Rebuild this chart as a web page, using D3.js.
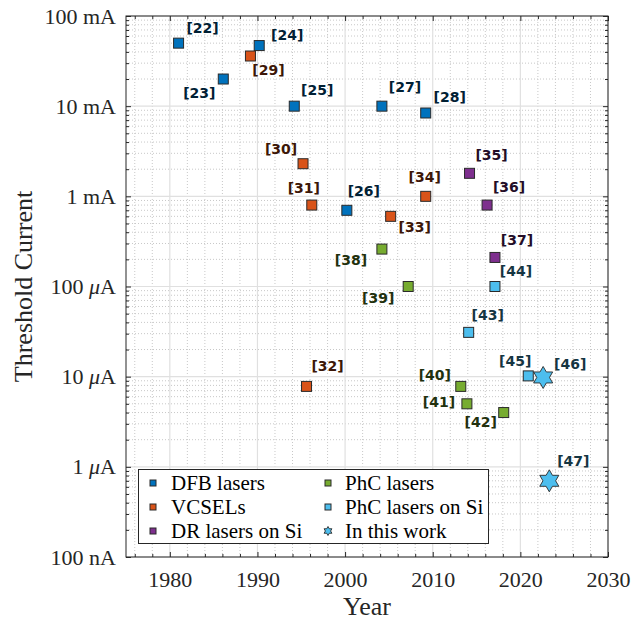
<!DOCTYPE html>
<html>
<head>
<meta charset="utf-8">
<script src="https://cdn.jsdelivr.net/npm/d3@7"></script>
<style>
  html, body { margin: 0; padding: 0; background: #fff; }
  svg { display: block; }
</style>
</head>
<body>
<svg id="chart" width="631" height="623"></svg>
<script>
// ---- data ----
const refs     = ["[22]","[23]","[24]","[25]","[26]","[27]","[28]",
                  "[29]","[30]","[31]","[32]","[33]","[34]",
                  "[35]","[36]","[37]",
                  "[38]","[39]","[40]","[41]","[42]",
                  "[43]","[44]","[45]",
                  "[46]","[47]"];
const years    = [1981.0, 1986.1, 1990.2, 1994.2, 2000.2, 2004.2, 2009.2,
                  1989.2, 1995.2, 1996.2, 1995.6, 2005.2, 2009.2,
                  2014.2, 2016.2, 2017.1,
                  2004.2, 2007.2, 2013.2, 2013.9, 2018.1,
                  2014.1, 2017.1, 2020.9,
                  2022.6, 2023.3];
const currents = [50e-3, 20e-3, 47e-3, 10e-3, 0.7e-3, 10e-3, 8.4e-3,
                  36e-3, 2.3e-3, 0.8e-3, 7.8e-6, 0.6e-3, 1.0e-3,
                  1.8e-3, 0.8e-3, 0.21e-3,
                  0.26e-3, 100e-6, 7.8e-6, 5.0e-6, 4.0e-6,
                  31e-6, 100e-6, 10.2e-6,
                  9.8e-6, 0.7e-6];
const groups   = [0,0,0,0,0,0,0, 1,1,1,1,1,1, 2,2,2, 3,3,3,3,3, 4,4,4, 5,5];

const seriesNames  = ["DFB lasers","VCSELs","DR lasers on Si","PhC lasers","PhC lasers on Si","In this work"];
const seriesColors = ["#0072BD","#D95319","#7E2F8E","#77AC30","#4DBEEE","#4DBEEE"];
const seriesShapes = ["square","square","square","square","square","star"];

const xTicks = [1980, 1990, 2000, 2010, 2020, 2030];
const yTicks = [1e-7, 1e-6, 1e-5, 1e-4, 1e-3, 1e-2, 1e-1];
const yTickLabels = ["100 nA","1 μA","10 μA","100 μA","1 mA","10 mA","100 mA"];

// label placement around each marker (pixels from marker centre to label centre)
const labelOffsets = [[24,-15],[-24,14],[28,-10],[23,-16],[17,-19],[23,-19],[24,-16],
                      [18,14],[-22,-15],[-8,-17],[21,-20],[24,11],[-1,-19],
                      [22,-18],[22,-18],[22,-17],
                      [-31,11],[-30,12],[-26,-11],[-28,-2],[-23,10],
                      [19,-17],[21,-15],[-13,-15],
                      [27,-13],[24,-20]];

// ---- layout ----
const svg = d3.select("#chart");
const L = 126, R = 608, T = 16, B = 557;
const W = R - L, H = B - T;
const axisColor = "#262626";
const serif = "'Liberation Serif','Times New Roman',serif";

const x = d3.scaleLinear().domain([1975, 2030]).range([L, R]);
const y = d3.scaleLog().domain([1e-7, 1e-1]).range([B, T]);

// minor tick values
const xMinor = d3.range(1976, 2030, 2).filter(v => v % 10 !== 0);
const yMinor = [];
for (let e = -7; e < -1; e++) for (let k = 2; k <= 9; k++) yMinor.push(k * Math.pow(10, e));

// ---- grid ----
const grid = svg.append("g");
grid.selectAll(".gxm").data(xMinor).join("line")
  .attr("x1", d => x(d)).attr("x2", d => x(d)).attr("y1", T).attr("y2", B)
  .attr("stroke", "#c8c8c8").attr("stroke-width", 1).attr("stroke-dasharray", "1,2");
grid.selectAll(".gym").data(yMinor).join("line")
  .attr("x1", L).attr("x2", R).attr("y1", d => y(d)).attr("y2", d => y(d))
  .attr("stroke", "#c8c8c8").attr("stroke-width", 1).attr("stroke-dasharray", "1,2");
grid.selectAll(".gx").data(xTicks).join("line")
  .attr("x1", d => x(d)).attr("x2", d => x(d)).attr("y1", T).attr("y2", B)
  .attr("stroke", "#e0e0e0").attr("stroke-width", 1.2);
grid.selectAll(".gy").data(yTicks).join("line")
  .attr("x1", L).attr("x2", R).attr("y1", d => y(d)).attr("y2", d => y(d))
  .attr("stroke", "#e0e0e0").attr("stroke-width", 1.2);

// ---- axes (ticks pointing inward, box on all sides) ----
function styleAxis(g) {
  g.select(".domain").remove();
  g.selectAll("line").attr("stroke", axisColor);
}
const majorLen = 5, minorLen = 3;

svg.append("g").attr("transform", `translate(0,${B})`)
  .call(d3.axisBottom(x).tickValues(xTicks).tickSize(-majorLen).tickPadding(14).tickFormat(d3.format("d")))
  .call(styleAxis)
  .call(g => g.selectAll("text").attr("font-family", serif).attr("font-size", 22).attr("fill", axisColor));
svg.append("g").attr("transform", `translate(0,${B})`)
  .call(d3.axisBottom(x).tickValues(xMinor).tickSize(-minorLen).tickFormat(""))
  .call(styleAxis);
svg.append("g").attr("transform", `translate(0,${T})`)
  .call(d3.axisTop(x).tickValues(xTicks).tickSize(-majorLen).tickFormat(""))
  .call(styleAxis);
svg.append("g").attr("transform", `translate(0,${T})`)
  .call(d3.axisTop(x).tickValues(xMinor).tickSize(-minorLen).tickFormat(""))
  .call(styleAxis);

const yAxisG = svg.append("g").attr("transform", `translate(${L},0)`)
  .call(d3.axisLeft(y).tickValues(yTicks).tickSize(-majorLen).tickPadding(10)
        .tickFormat((d, i) => yTickLabels[i]))
  .call(styleAxis);
yAxisG.selectAll("text")
  .attr("font-family", serif).attr("font-size", 22).attr("fill", axisColor)
  .each(function(d, i) {
    const s = yTickLabels[i];
    const t = d3.select(this).text("");
    const k = s.indexOf("μ");
    if (k < 0) { t.text(s); return; }
    t.append("tspan").text(s.slice(0, k));
    t.append("tspan").attr("font-style", "italic").text("μ");
    t.append("tspan").text(s.slice(k + 1));
  });
svg.append("g").attr("transform", `translate(${L},0)`)
  .call(d3.axisLeft(y).tickValues(yMinor).tickSize(-minorLen).tickFormat(""))
  .call(styleAxis);
svg.append("g").attr("transform", `translate(${R},0)`)
  .call(d3.axisRight(y).tickValues(yTicks).tickSize(-majorLen).tickFormat(""))
  .call(styleAxis);
svg.append("g").attr("transform", `translate(${R},0)`)
  .call(d3.axisRight(y).tickValues(yMinor).tickSize(-minorLen).tickFormat(""))
  .call(styleAxis);

// axes box
svg.append("rect").attr("x", L).attr("y", T).attr("width", W).attr("height", H)
  .attr("fill", "none").attr("stroke", axisColor).attr("stroke-width", 1);

// axis titles
svg.append("text").attr("x", (L + R) / 2).attr("y", 615)
  .attr("text-anchor", "middle").attr("font-family", serif).attr("font-size", 26)
  .attr("fill", axisColor).text("Year");
svg.append("text").attr("transform", `translate(32,${(T + B) / 2}) rotate(-90)`)
  .attr("text-anchor", "middle").attr("font-family", serif).attr("font-size", 26)
  .attr("fill", axisColor).text("Threshold Current");

// ---- markers ----
function hexagram(r) {
  const pts = [];
  for (let i = 0; i < 12; i++) {
    const a = -Math.PI / 2 + i * Math.PI / 6;
    const rr = i % 2 === 0 ? r : r / Math.sqrt(3);
    pts.push([rr * Math.cos(a), rr * Math.sin(a)]);
  }
  return "M" + pts.map(p => p[0].toFixed(2) + "," + p[1].toFixed(2)).join("L") + "Z";
}
function drawMarker(g, shape, color, size) {
  if (shape === "star") {
    g.append("path").attr("d", hexagram(size)).attr("fill", color)
      .attr("stroke", "#2a2a2a").attr("stroke-width", 0.9).attr("stroke-linejoin", "miter");
  } else {
    g.append("rect").attr("x", -size / 2).attr("y", -size / 2)
      .attr("width", size).attr("height", size).attr("fill", color)
      .attr("stroke", "#2a2a2a").attr("stroke-width", 1);
  }
}

const idx = d3.range(refs.length);
const pts = svg.append("g");
idx.forEach(i => {
  const g = pts.append("g").attr("transform", `translate(${x(years[i])},${y(currents[i])})`);
  const s = groups[i];
  drawMarker(g, seriesShapes[s], seriesColors[s], seriesShapes[s] === "star" ? 11 : 10);
});

// reference labels
const labs = svg.append("g");
idx.forEach(i => {
  const s = groups[i];
  labs.append("text")
    .attr("x", x(years[i]) + labelOffsets[i][0])
    .attr("y", y(currents[i]) + labelOffsets[i][1])
    .attr("dy", "0.35em")
    .attr("text-anchor", "middle")
    .attr("font-family", "'DejaVu Sans', Verdana, sans-serif")
    .attr("font-weight", "bold").attr("font-size", 14)
    .attr("fill", d3.color(seriesColors[s]).darker(3.6).formatHex())
    .text(refs[i]);
});

// ---- legend ----
const lg = svg.append("g");
lg.append("rect").attr("x", 138.5).attr("y", 469.5).attr("width", 350).attr("height", 74)
  .attr("fill", "#fff").attr("stroke", axisColor).attr("stroke-width", 1);
const colX = [153, 328], textX = [171, 345], rowY = [483, 507, 531];
seriesNames.forEach((name, i) => {
  const c = Math.floor(i / 3), r = i % 3;
  const g = lg.append("g").attr("transform", `translate(${colX[c]},${rowY[r]})`);
  drawMarker(g, seriesShapes[i], seriesColors[i], seriesShapes[i] === "star" ? 4.5 : 6);
  lg.append("text").attr("x", textX[c]).attr("y", rowY[r]).attr("dy", "0.33em")
    .attr("font-family", serif).attr("font-size", 21).attr("fill", "#000").text(name);
});
</script>
</body>
</html>
